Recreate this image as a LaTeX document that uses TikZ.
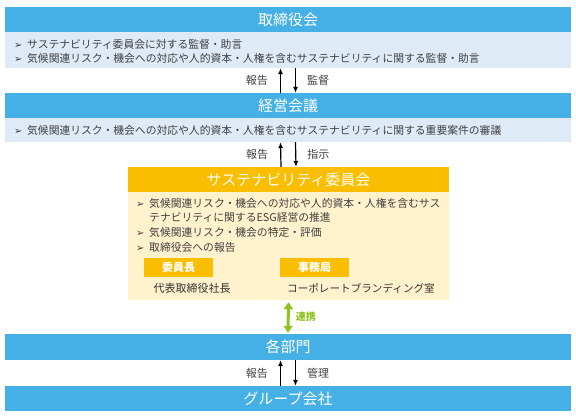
\documentclass[tikz,border=0pt]{standalone}
\usepackage{fontspec}
\setmainfont{Noto Sans CJK JP}
\newfontfamily\symfont{DejaVu Sans}
\usetikzlibrary{arrows.meta}
\definecolor{hdblue}{RGB}{69,176,229}
\definecolor{bandblue}{RGB}{222,234,246}
\definecolor{hdyellow}{RGB}{250,190,0}
\definecolor{bodycream}{RGB}{255,242,204}
\definecolor{linkgreen}{RGB}{141,194,31}
\definecolor{txtgray}{RGB}{64,64,64}
\newcommand{\itemmark}{\makebox[13pt][l]{\symfont\fontsize{10}{10}\selectfont ➢}}
\begin{document}
\begin{tikzpicture}[x=1pt,y=-1pt,
    header/.style={fill=hdblue,text=white,font=\fontsize{15}{15}\selectfont,
      minimum width=566pt,minimum height=25pt,inner sep=0pt},
    band/.style={fill=bandblue,minimum width=566pt,inner sep=0pt},
    item/.style={anchor=west,text=txtgray,font=\fontsize{10.8}{13}\selectfont,inner sep=0pt},
    lbl/.style={text=txtgray,font=\fontsize{11}{11}\selectfont,inner sep=0pt},
    badge/.style={fill=hdyellow,text=white,font=\bfseries\fontsize{11}{11}\selectfont,
      minimum width=69pt,minimum height=19pt,inner sep=0pt},
    flow/.style={-{Latex[length=6pt,width=5pt]},line width=1.2pt}]
        \useasboundingbox (0,0) rectangle (576,416);
        % Board of directors
        \node[header] (tb) at (288,19.5) {取締役会};
        \node[band,minimum height=36pt] (tbband) at (288,50) {};
        \node[item] (tb1) at (14,44) {\itemmark サステナビリティ委員会に対する監督・助言};
        \node[item] (tb2) at (14,58) {\itemmark 気候関連リスク・機会への対応や人的資本・人権を含むサステナビリティに関する監督・助言};
        % Management meeting
        \node[header] (kk) at (288,105.5) {経営会議};
        \node[band,minimum height=24pt] (kkband) at (288,130) {};
        \node[item] (kk1) at (14,130) {\itemmark 気候関連リスク・機会への対応や人的資本・人権を含むサステナビリティに関する重要案件の審議};
        \draw[flow] ([xshift=-7.5pt]kk.north) -- node[lbl,left=12pt] (r1) {報告} ([xshift=-7.5pt]tbband.south);
        \draw[flow] ([xshift=7.5pt]tbband.south) -- node[lbl,right=11pt] (m1) {監督} ([xshift=7.5pt]kk.north);
        % Sustainability committee
        \node[header,fill=hdyellow,minimum width=321pt] (sc) at (288.5,179.5) {サステナビリティ委員会};
        \node[fill=bodycream,minimum width=321pt,minimum height=108pt,inner sep=0pt] (scbody) at (288.5,246) {};
        \node[item] (sc1) at (136,203) {\itemmark 気候関連リスク・機会への対応や人的資本・人権を含むサス};
        \node[item] (sc1b) at (149,217) {テナビリティに関するESG経営の推進};
        \node[item] (sc2) at (136,232) {\itemmark 気候関連リスク・機会の特定・評価};
        \node[item] (sc3) at (136,247) {\itemmark 取締役会への報告};
        \node[badge] (chair) at (178.5,267.5) {委員長};
        \node[badge] (office) at (314.5,267.5) {事務局};
        \node[lbl,text=black!80] (chairname) at (192,288) {代表取締役社長};
        \node[lbl,text=black!80,font=\fontsize{10.6}{11}\selectfont] (officename) at (361,288) {コーポレートブランディング室};
        \draw[flow] ([xshift=-7.5pt]sc.north) -- node[lbl,left=12pt] (r2) {報告} ([xshift=-7.5pt]kkband.south);
        \draw[flow] ([xshift=7.5pt]kkband.south) -- node[lbl,right=11pt] (s2) {指示} ([xshift=7.5pt]sc.north);
        % Departments and group companies
        \node[header,minimum height=26pt] (kb) at (288,347) {各部門};
        \node[header] (gk) at (288,398.5) {グループ会社};
        \draw[linkgreen,line width=3pt,{Triangle[length=7pt,width=9pt]}-{Triangle[length=7pt,width=9pt]},
          shorten <=2pt,shorten >=1pt] (scbody.south) -- node[right=6pt,font=\bfseries\fontsize{10}{10}\selectfont,inner sep=0pt] (link) {連携} (kb.north);
        \draw[flow] ([xshift=-7.5pt]gk.north) -- node[lbl,left=12pt] (r3) {報告} ([xshift=-7.5pt]kb.south);
        \draw[flow] ([xshift=7.5pt]kb.south) -- node[lbl,right=11pt] (c3) {管理} ([xshift=7.5pt]gk.north);
\end{tikzpicture}
\end{document}
